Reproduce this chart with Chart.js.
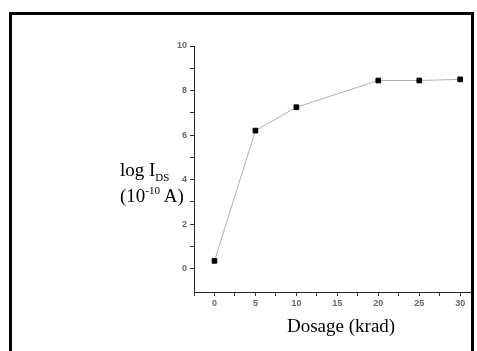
<!DOCTYPE html>
<html><head><meta charset="utf-8">
<script src="https://cdn.jsdelivr.net/npm/chart.js@4/dist/chart.umd.min.js"></script>
<style>
html,body{margin:0;padding:0;background:#fff;}
#wrap{position:relative;width:477px;height:351px;overflow:hidden;}
#c{position:absolute;left:0;top:0;}
#frame{position:absolute;left:9px;top:12px;width:459px;height:400px;border-left:3px solid #000;border-top:3px solid #000;border-right:3px solid #000;pointer-events:none;}
.t{position:absolute;font-family:"Liberation Serif","Times New Roman",serif;font-size:19px;line-height:22px;color:#000;white-space:nowrap;}
.t sub,.t sup{font-size:11px;line-height:0;}
</style></head>
<body><div id="wrap">
<canvas id="c" width="477" height="351"></canvas>
<div id="frame"></div>
<div class="t" style="left:120px;top:159px;">log I<sub style="vertical-align:-5px">DS</sub></div>
<div class="t" style="left:120px;top:185px;">(10<sup style="vertical-align:8px">-10</sup> A)</div>
<div class="t" style="left:287px;top:315px;">Dosage (krad)</div>
</div>
<script>
const dosage = [0, 5, 10, 20, 25, 30];
const logIds = [0.35, 6.2, 7.25, 8.45, 8.45, 8.5];
const xTicks = [-2.5, 0, 2.5, 5, 7.5, 10, 12.5, 15, 17.5, 20, 22.5, 25, 27.5, 30];
const yTicks = [0, 1, 2, 3, 4, 5, 6, 7, 8, 9, 10];

const tickFont = {family: '"Liberation Sans", Arial, sans-serif', size: 9, weight: 'bold'};
new Chart(document.getElementById('c'), {
  type: 'line',
  data: {
    datasets: [{
      data: dosage.map((x, i) => ({x: x, y: logIds[i]})),
      borderColor: '#b0b0b0',
      borderWidth: 1,
      pointStyle: 'rect',
      pointRadius: 3.3,
      pointBackgroundColor: '#000',
      pointBorderColor: '#000',
      pointBorderWidth: 1,
      tension: 0,
      clip: false
    }]
  },
  options: {
    responsive: false,
    animation: false,
    events: [],
    layout: {padding: {top: 46, right: 0, left: 0, bottom: 0}},
    plugins: {legend: {display: false}, tooltip: {enabled: false}},
    scales: {
      x: {
        type: 'linear', min: -2.5, max: 31.44,
        afterFit: s => { s.height = 59; },
        afterBuildTicks: s => { s.ticks = xTicks.map(v => ({value: v})); },
        grid: {drawOnChartArea: false, drawTicks: true, tickLength: 4, tickColor: '#333'},
        border: {display: true, color: '#222', width: 1},
        ticks: {
          font: tickFont, color: '#666', padding: 2, maxRotation: 0, autoSkip: false,
          callback: v => (v % 5 === 0 ? String(v) : '')
        }
      },
      y: {
        type: 'linear', min: -1.05, max: 10,
        afterFit: s => { s.width = 194; },
        afterBuildTicks: s => { s.ticks = yTicks.map(v => ({value: v})); },
        grid: {drawOnChartArea: false, drawTicks: true, tickLength: 4, tickColor: '#333'},
        border: {display: true, color: '#222', width: 1},
        ticks: {
          font: tickFont, color: '#666', padding: 3, autoSkip: false,
          callback: v => (v % 2 === 0 ? String(v) : '')
        }
      }
    }
  }
});
</script>
</body></html>
